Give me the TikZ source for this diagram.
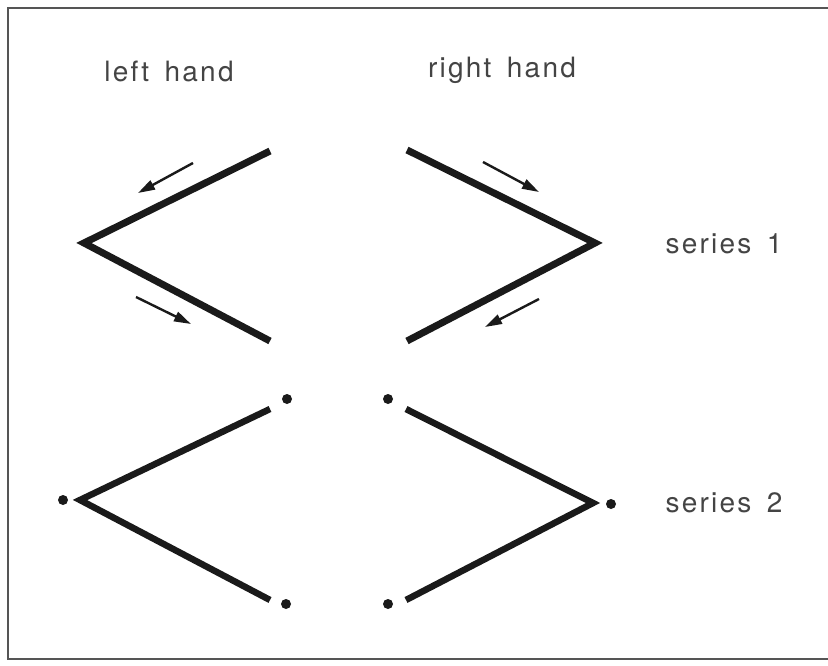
\documentclass[tikz,border=0pt]{standalone}
\usepackage{fontspec}
\setmainfont{TeX Gyre Heros}[LetterSpace=8]
\usetikzlibrary{arrows.meta}
\definecolor{ink}{HTML}{1A1A1A}
\definecolor{txt}{HTML}{444444}
\definecolor{frame}{HTML}{555555}
\begin{document}
\begin{tikzpicture}[x=1pt,y=-1pt,
  zig/.style={line width=7pt,draw=ink,line join=miter,line cap=butt},
  zigb/.style={line width=6.5pt,draw=ink,line join=miter,line cap=butt},
  flow/.style={line width=2.4pt,draw=ink,-{Triangle[length=17pt,width=10pt]}},
  dotm/.style={circle,fill=ink,inner sep=0pt,minimum size=10pt},
  lbl/.style={text=txt,font=\fontsize{28}{32}\selectfont,inner sep=0pt}]
\useasboundingbox (0,0) rectangle (828,666);
% frame
\draw[frame,line width=1.8pt] (828,8) -- (8,8) -- (8,659) -- (828,659);
% labels
\node[lbl] (lh) at (169,71) {left\hspace{0.55em}hand};
\node[lbl] (rh) at (502,70) {right\hspace{0.55em}hand};
\node[lbl] (s1) at (724,244) {series\hspace{0.55em}1};
\node[lbl] (s2) at (724,503) {series\hspace{0.55em}2};
% series 1
\coordinate (a1) at (270,151);
\coordinate (a2) at (84,243);
\coordinate (a3) at (270,341);
\coordinate (b1) at (407,150);
\coordinate (b2) at (595,243);
\coordinate (b3) at (407,341);
\draw[zig] (a1) -- (a2) -- (a3);
\draw[zig] (b1) -- (b2) -- (b3);
\coordinate (p1) at (193,163); \coordinate (q1) at (138,193);
\coordinate (p2) at (136,297); \coordinate (q2) at (191,324);
\coordinate (p3) at (483,162); \coordinate (q3) at (539,192);
\coordinate (p4) at (539,299); \coordinate (q4) at (485,327);
\draw[flow] (p1) -- (q1);
\draw[flow] (p2) -- (q2);
\draw[flow] (p3) -- (q3);
\draw[flow] (p4) -- (q4);
% series 2
\coordinate (c1) at (270,409);
\coordinate (c2) at (80,500);
\coordinate (c3) at (270,600);
\coordinate (d1) at (406,409);
\coordinate (d2) at (593,503);
\coordinate (d3) at (406,600);
\draw[zigb] (c1) -- (c2) -- (c3);
\draw[zigb] (d1) -- (d2) -- (d3);
\node[dotm] (e1) at (287,399) {};
\node[dotm] (e2) at (63,500) {};
\node[dotm] (e3) at (286,604) {};
\node[dotm] (f1) at (388,399) {};
\node[dotm] (f2) at (611,504) {};
\node[dotm] (f3) at (388,604) {};
\end{tikzpicture}
\end{document}
